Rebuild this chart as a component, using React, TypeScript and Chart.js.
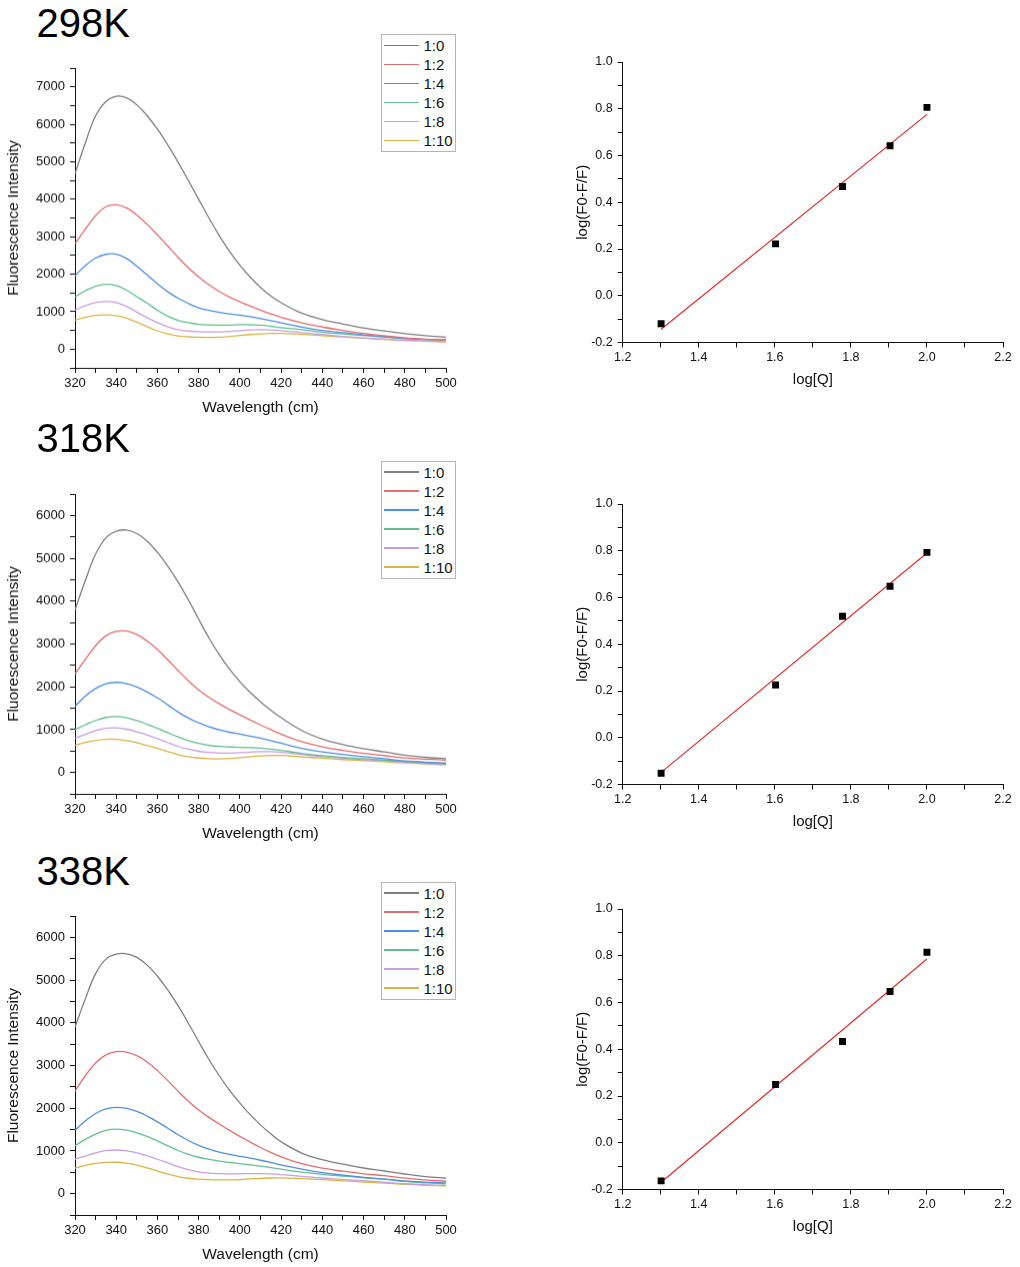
import React, { useEffect, useRef } from "react";
import Chart from "chart.js/auto";

const FONT = '"Liberation Sans", Arial, Helvetica, sans-serif';
const INK = "#111";

// emission spectra, wavelength in nm
const wavelengths = [320, 325, 330, 335, 340, 345, 350, 355, 360, 365, 370, 375, 380, 385, 390, 395, 400, 405, 410, 415, 420, 430, 440, 450, 460, 470, 480, 490, 500];
const ratioLabels = ["1:0", "1:2", "1:4", "1:6", "1:8", "1:10"];
const lineColors = ["#7f7f7f", "#e46e6e", "#4f8fdf", "#63be92", "#c79fe3", "#dbb446"];

// 298K
const i298_0 = [4680, 5500, 6230, 6610, 6750, 6710, 6520, 6230, 5870, 5450, 4990, 4500, 4000, 3500, 3030, 2610, 2240, 1920, 1650, 1420, 1240, 960, 790, 670, 565, 485, 415, 360, 320];
const i298_2 = [2815, 3200, 3560, 3800, 3850, 3770, 3580, 3330, 3050, 2750, 2450, 2170, 1930, 1720, 1540, 1390, 1265, 1150, 1040, 940, 850, 700, 590, 500, 420, 360, 300, 265, 240];
const i298_4 = [1955, 2230, 2430, 2530, 2535, 2420, 2215, 1980, 1750, 1530, 1360, 1220, 1105, 1035, 980, 940, 905, 865, 815, 760, 700, 590, 500, 440, 380, 330, 280, 260, 250];
const i298_6 = [1395, 1560, 1680, 1730, 1700, 1575, 1400, 1225, 1040, 880, 765, 705, 660, 645, 640, 640, 655, 650, 640, 610, 575, 520, 455, 405, 365, 325, 290, 260, 240];
const i298_8 = [1040, 1160, 1240, 1270, 1240, 1140, 990, 840, 705, 595, 520, 483, 466, 460, 462, 475, 495, 512, 520, 512, 495, 440, 390, 340, 300, 270, 240, 220, 200];
const i298_10 = [775, 850, 900, 915, 895, 830, 720, 600, 490, 405, 355, 330, 318, 312, 318, 338, 365, 390, 408, 418, 418, 395, 360, 325, 290, 260, 230, 210, 190];

// 318K
const i318_0 = [3790, 4480, 5100, 5480, 5630, 5660, 5580, 5400, 5140, 4820, 4450, 4030, 3580, 3140, 2750, 2410, 2120, 1870, 1650, 1455, 1280, 980, 780, 650, 555, 480, 405, 355, 320];
const i318_2 = [2300, 2640, 2960, 3190, 3295, 3300, 3220, 3070, 2870, 2630, 2380, 2140, 1930, 1755, 1605, 1470, 1345, 1225, 1110, 1000, 895, 720, 600, 515, 445, 395, 340, 310, 290];
const i318_4 = [1540, 1780, 1960, 2070, 2105, 2075, 1995, 1880, 1740, 1580, 1410, 1270, 1160, 1065, 995, 940, 895, 850, 800, 745, 685, 560, 480, 420, 370, 320, 270, 240, 220];
const i318_6 = [1000, 1110, 1215, 1285, 1305, 1275, 1210, 1125, 1030, 930, 830, 745, 680, 635, 608, 595, 588, 580, 568, 545, 515, 445, 392, 352, 320, 290, 260, 230, 200];
const i318_8 = [800, 890, 975, 1030, 1040, 1010, 950, 875, 790, 700, 612, 542, 495, 467, 453, 452, 462, 476, 486, 484, 470, 422, 372, 332, 300, 270, 240, 210, 190];
const i318_10 = [630, 700, 750, 775, 772, 745, 695, 630, 560, 485, 418, 368, 337, 322, 318, 326, 345, 368, 388, 398, 398, 365, 332, 302, 278, 250, 222, 200, 180];

// 338K
const i338_0 = [3900, 4560, 5150, 5490, 5605, 5615, 5530, 5350, 5090, 4770, 4400, 3990, 3560, 3140, 2760, 2420, 2120, 1850, 1610, 1400, 1215, 950, 795, 690, 600, 530, 460, 400, 360];
const i338_2 = [2400, 2760, 3060, 3250, 3325, 3315, 3230, 3080, 2880, 2645, 2400, 2165, 1960, 1785, 1630, 1480, 1340, 1205, 1080, 965, 860, 700, 595, 525, 465, 420, 362, 322, 290];
const i338_4 = [1490, 1700, 1875, 1985, 2020, 1995, 1925, 1815, 1680, 1530, 1380, 1245, 1130, 1040, 972, 920, 875, 830, 782, 730, 675, 575, 492, 432, 382, 340, 300, 270, 250];
const i338_6 = [1120, 1270, 1395, 1480, 1510, 1485, 1425, 1340, 1235, 1120, 1010, 920, 852, 802, 762, 730, 702, 672, 642, 608, 572, 502, 452, 410, 372, 338, 285, 252, 230];
const i338_8 = [810, 880, 955, 1005, 1022, 1002, 955, 885, 805, 718, 632, 560, 508, 480, 468, 464, 465, 469, 469, 462, 447, 406, 366, 335, 302, 270, 232, 210, 190];
const i338_10 = [600, 660, 708, 733, 735, 712, 665, 602, 530, 460, 400, 360, 338, 326, 321, 322, 330, 344, 358, 366, 367, 352, 330, 300, 272, 246, 216, 196, 180];

// double-log plots
const logQ = [1.301, 1.602, 1.778, 1.903, 2.0];
const quench298 = [-0.12, 0.222, 0.467, 0.642, 0.806];
const quench318 = [-0.152, 0.226, 0.52, 0.648, 0.793];
const quench338 = [-0.163, 0.249, 0.433, 0.647, 0.815];
const fit298 = [-0.143, 0.776];
const fit318 = [-0.148, 0.79];
const fit338 = [-0.169, 0.786];

const rows = [
  { label: "298K", spectra: [i298_0, i298_2, i298_4, i298_6, i298_8, i298_10], yMax: 7500, quench: quench298, fit: fit298, titleTop: 3, specTop: 68, legendTop: 34, fitTop: 61.7 },
  { label: "318K", spectra: [i318_0, i318_2, i318_4, i318_6, i318_8, i318_10], yMax: 6500, quench: quench318, fit: fit318, titleTop: 418, specTop: 494, legendTop: 460.7, fitTop: 504.3 },
  { label: "338K", spectra: [i338_0, i338_2, i338_4, i338_6, i338_8, i338_10], yMax: 6500, quench: quench338, fit: fit338, titleTop: 850.5, specTop: 915.7, legendTop: 881.7, fitTop: 909 },
];

const axisStyle = (tickSize: number) => ({
  grid: { drawOnChartArea: false, drawTicks: true, tickLength: 5, tickColor: INK, tickWidth: 1 },
  border: { display: true, color: INK, width: 1 },
  ticks: { autoSkip: false, maxRotation: 0, color: INK, font: { size: tickSize, family: FONT } },
});

const SpectrumChart = ({ series, yMax, plotTop }: { series: number[][]; yMax: number; plotTop: number }) => {
  const canvasRef = useRef<HTMLCanvasElement>(null);
  const padTop = 18;
  const plotH = 299.5;
  const axisH = 52;
  const width = 470;
  const height = padTop + plotH + axisH;

  useEffect(() => {
    const ctx = canvasRef.current?.getContext("2d");
    if (!ctx) return;
    const base = axisStyle(13);
    const chart = new Chart(ctx, {
      type: "line",
      data: {
        datasets: series.map((vals, i) => ({
          label: ratioLabels[i],
          data: wavelengths.map((w, j) => ({ x: w, y: vals[j] })),
          borderColor: lineColors[i],
          borderWidth: 1.3,
          pointRadius: 0,
          tension: 0.4,
          fill: false,
        })),
      },
      options: {
        animation: false,
        responsive: false,
        events: [],
        layout: { padding: { top: padTop, right: width - 446, left: 0, bottom: 0 } },
        plugins: { legend: { display: false }, tooltip: { enabled: false } },
        scales: {
          x: {
            type: "linear",
            min: 320,
            max: 500,
            afterFit: (s: any) => {
              s.height = axisH;
            },
            grid: base.grid,
            border: base.border,
            ticks: {
              ...base.ticks,
              stepSize: 10,
              padding: 3,
              callback: (v: any) => (Math.round(Number(v)) % 20 === 0 ? String(Math.round(Number(v))) : ""),
            },
            title: { display: true, text: "Wavelength (cm)", color: INK, font: { size: 15.5, family: FONT }, padding: { top: 0, bottom: 3 } },
          },
          y: {
            type: "linear",
            min: -500,
            max: yMax,
            afterFit: (s: any) => {
              s.width = 75;
            },
            grid: base.grid,
            border: base.border,
            ticks: {
              ...base.ticks,
              stepSize: 500,
              padding: 5,
              callback: (v: any) => (Math.round(Number(v)) % 1000 === 0 ? String(Math.round(Number(v))) : ""),
            },
            title: { display: true, text: "Fluorescence Intensity", color: INK, font: { size: 15.5, family: FONT }, padding: { top: 4.7, bottom: 0 } },
          },
        },
      },
    });
    return () => chart.destroy();
  }, [series, yMax]);

  return (
    <canvas
      ref={canvasRef}
      width={width}
      height={height}
      style={{ position: "absolute", left: 0, top: plotTop - padTop, width, height }}
    />
  );
};

const QuenchChart = ({ values, fit, plotTop }: { values: number[]; fit: number[]; plotTop: number }) => {
  const canvasRef = useRef<HTMLCanvasElement>(null);
  const left = 540;
  const width = 480;
  const padTop = 14;
  const plotH = 280.5;
  const axisH = 49.5;
  const height = padTop + plotH + axisH;

  useEffect(() => {
    const ctx = canvasRef.current?.getContext("2d");
    if (!ctx) return;
    const base = axisStyle(12.5);
    const tenth = (v: any) => {
      const n = Math.round(Number(v) * 10);
      return n % 2 === 0 ? (n / 10).toFixed(1) : "";
    };
    const chart = new Chart(ctx, {
      type: "scatter",
      data: {
        datasets: [
          {
            label: "data",
            data: logQ.map((x, i) => ({ x, y: values[i] })),
            pointStyle: "rect",
            pointRadius: 4.9,
            pointBackgroundColor: "#000",
            pointBorderWidth: 0,
            showLine: false,
          },
          {
            label: "fit",
            data: [
              { x: logQ[0], y: fit[0] },
              { x: logQ[logQ.length - 1], y: fit[1] },
            ],
            showLine: true,
            borderColor: "#e22b2b",
            borderWidth: 1.2,
            pointRadius: 0,
          },
        ],
      },
      options: {
        animation: false,
        responsive: false,
        events: [],
        layout: { padding: { top: padTop, right: left + width - 1003, left: 0, bottom: 0 } },
        plugins: { legend: { display: false }, tooltip: { enabled: false } },
        scales: {
          x: {
            type: "linear",
            min: 1.2,
            max: 2.2,
            afterFit: (s: any) => {
              s.height = axisH;
            },
            grid: base.grid,
            border: base.border,
            ticks: { ...base.ticks, stepSize: 0.1, padding: 2.5, callback: tenth },
            title: { display: true, text: "log[Q]", color: INK, font: { size: 15, family: FONT }, padding: { top: 0, bottom: 3 } },
          },
          y: {
            type: "linear",
            min: -0.2,
            max: 1.0,
            afterFit: (s: any) => {
              s.width = 622.7 - left;
            },
            grid: base.grid,
            border: base.border,
            ticks: { ...base.ticks, stepSize: 0.1, padding: 5, callback: tenth },
            title: { display: true, text: "log(F0-F/F)", color: INK, font: { size: 15, family: FONT }, padding: { top: 33.7, bottom: 0 } },
          },
        },
      },
    });
    return () => chart.destroy();
  }, [values, fit]);

  return (
    <canvas
      ref={canvasRef}
      width={width}
      height={height}
      style={{ position: "absolute", left, top: plotTop - padTop, width, height }}
    />
  );
};

const Legend = ({ top }: { top: number }) => (
  <div
    style={{
      position: "absolute",
      left: 381,
      top,
      width: 73,
      padding: "1px 0",
      border: "1px solid #b4b4b4",
      background: "#fff",
      fontFamily: FONT,
      fontSize: 15,
      color: INK,
    }}
  >
    {ratioLabels.map((name, i) => (
      <div key={name} style={{ display: "flex", alignItems: "center", height: 19, lineHeight: "19px" }}>
        <span style={{ display: "inline-block", width: 35, height: 1.5, marginLeft: 2, marginRight: 4.5, background: lineColors[i] }} />
        <span>{name}</span>
      </div>
    ))}
  </div>
);

const App = () => (
  <div style={{ position: "absolute", left: 0, top: 0, width: 1020, height: 1267, background: "#fff", overflow: "hidden" }}>
    {rows.map((r) => (
      <React.Fragment key={r.label}>
        <div
          style={{
            position: "absolute",
            left: 36.5,
            top: r.titleTop,
            fontFamily: FONT,
            fontSize: 40,
            lineHeight: 1,
            color: "#000",
          }}
        >
          {r.label}
        </div>
        <SpectrumChart series={r.spectra} yMax={r.yMax} plotTop={r.specTop} />
        <Legend top={r.legendTop} />
        <QuenchChart values={r.quench} fit={r.fit} plotTop={r.fitTop} />
      </React.Fragment>
    ))}
  </div>
);

export default App;
